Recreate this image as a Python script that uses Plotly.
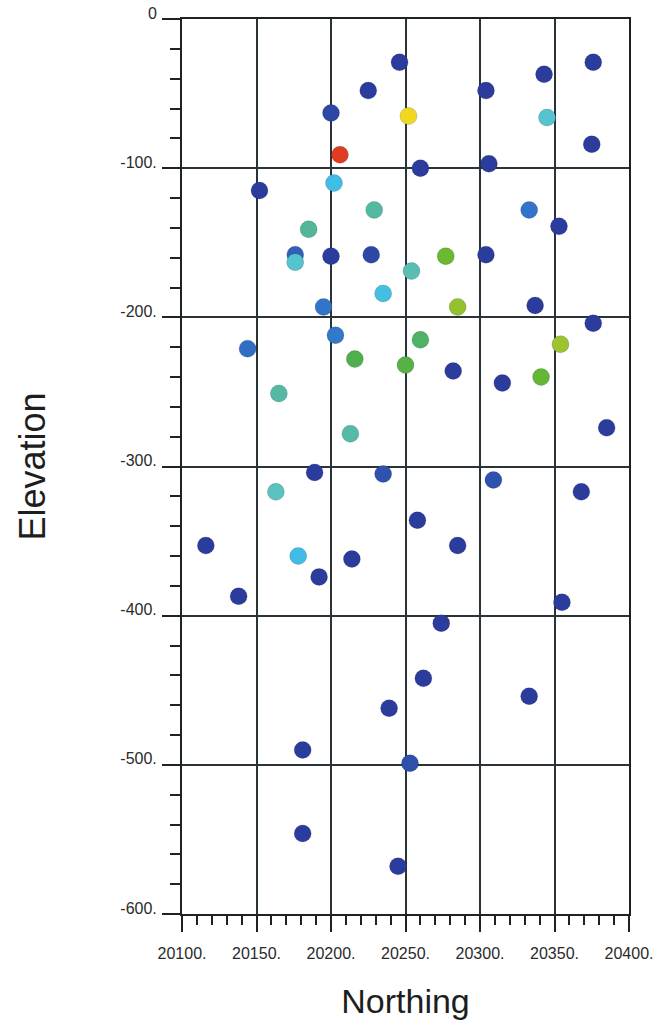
import plotly.graph_objects as go

# Sample locations (Northing, Elevation) and a normalised grade value (0 = low, 1 = high)
northing = [20246, 20343, 20376, 20225, 20304, 20200, 20252, 20345, 20375, 20206,
            20306, 20260, 20152, 20202, 20229, 20333, 20402, 20353, 20185, 20176,
            20176, 20200, 20227, 20277, 20304, 20254, 20235, 20337, 20195, 20285,
            20376, 20144, 20203, 20260, 20354, 20216, 20250, 20282, 20315, 20341,
            20165, 20213, 20385, 20189, 20235, 20309, 20368, 20163, 20258, 20116,
            20285, 20178, 20214, 20192, 20138, 20355, 20274, 20262, 20333, 20239,
            20181, 20253, 20181, 20245]
elevation = [-29, -37, -29, -48, -48, -63, -65, -66, -84, -91,
             -97, -100, -115, -110, -128, -128, -132, -139, -141, -158,
             -163, -159, -158, -159, -158, -169, -184, -192, -193, -193,
             -204, -221, -212, -215, -218, -228, -232, -236, -244, -240,
             -251, -278, -274, -304, -305, -309, -317, -317, -336, -353,
             -353, -360, -362, -374, -387, -391, -405, -442, -454, -462,
             -490, -499, -546, -568]
grade = [0.0, 0.0, 0.0, 0.0, 0.0, 0.03, 0.9, 0.38, 0.0, 1.0,
         0.0, 0.0, 0.0, 0.3, 0.48, 0.15, 0.0, 0.0, 0.5, 0.1,
         0.38, 0.0, 0.03, 0.7, 0.0, 0.45, 0.32, 0.0, 0.15, 0.78,
         0.0, 0.13, 0.16, 0.58, 0.8, 0.62, 0.64, 0.0, 0.0, 0.68,
         0.48, 0.47, 0.0, 0.0, 0.06, 0.06, 0.0, 0.42, 0.0, 0.0,
         0.0, 0.3, 0.0, 0.0, 0.0, 0.0, 0.0, 0.0, 0.0, 0.0,
         0.0, 0.05, 0.0, 0.0]

x_ticks = [20100, 20150, 20200, 20250, 20300, 20350, 20400]
x_ticktext = ["20100.", "20150.", "20200.", "20250.", "20300.", "20350.", "20400."]
y_ticks = [0, -100, -200, -300, -400, -500, -600]
y_ticktext = ["0", "-100.", "-200.", "-300.", "-400.", "-500.", "-600."]

colorscale = [
    [0.0, "#2c3c9c"],
    [0.15, "#3274c8"],
    [0.3, "#3fbde6"],
    [0.4, "#5cc6c8"],
    [0.5, "#52b69a"],
    [0.62, "#4eb04c"],
    [0.7, "#6cb82e"],
    [0.8, "#9cc42e"],
    [0.9, "#f0d820"],
    [1.0, "#e03c20"],
]

fig = go.Figure()
fig.add_trace(go.Scatter(
    x=northing, y=elevation, mode="markers",
    marker=dict(size=17, color=grade, colorscale=colorscale, cmin=0, cmax=1,
                line=dict(width=1, color="rgba(0,0,40,0.15)")),
    cliponaxis=False, showlegend=False, hoverinfo="x+y",
))

line_col = "#2a3438"
fig.update_layout(
    width=662, height=1027, autosize=False,
    margin=dict(l=182, r=33, t=19, b=113, pad=0),
    paper_bgcolor="white", plot_bgcolor="white",
    font=dict(family="Liberation Sans, Arial, sans-serif", color="#2a2a2a"),
)
fig.update_xaxes(
    range=[20100, 20400], tickvals=x_ticks, ticktext=x_ticktext,
    automargin=False,
    showgrid=True, gridcolor=line_col, gridwidth=1.6,
    showline=True, linecolor="#1e2224", linewidth=2, mirror=True,
    ticks="outside", ticklen=16, tickwidth=1.6, tickcolor="#1e2224",
    ticklabelstandoff=8,
    minor=dict(ticks="outside", ticklen=9, dtick=10, tick0=20100, tickwidth=1.6,
               tickcolor="#1e2224", showgrid=False),
    tickfont=dict(size=16, color="#2a2a2a"),
    title=dict(text="Northing", font=dict(size=34, color="#1e1e1e"), standoff=28),
    zeroline=False,
)
fig.update_yaxes(
    range=[-600, 0], tickvals=y_ticks, ticktext=y_ticktext,
    automargin=False,
    showgrid=True, gridcolor=line_col, gridwidth=1.6,
    showline=True, linecolor="#1e2224", linewidth=2, mirror=True,
    ticks="outside", ticklen=18, tickwidth=1.6, tickcolor="#1e2224",
    ticklabelshift=-6, ticklabelstandoff=2,
    minor=dict(ticks="outside", ticklen=10, dtick=20, tick0=0, tickwidth=1.6,
               tickcolor="#1e2224", showgrid=False),
    tickfont=dict(size=16, color="#2a2a2a"),
    title=dict(text="Elevation", font=dict(size=36, color="#1e1e1e"), standoff=64),
    zeroline=False,
)

fig.write_html("out.html")
